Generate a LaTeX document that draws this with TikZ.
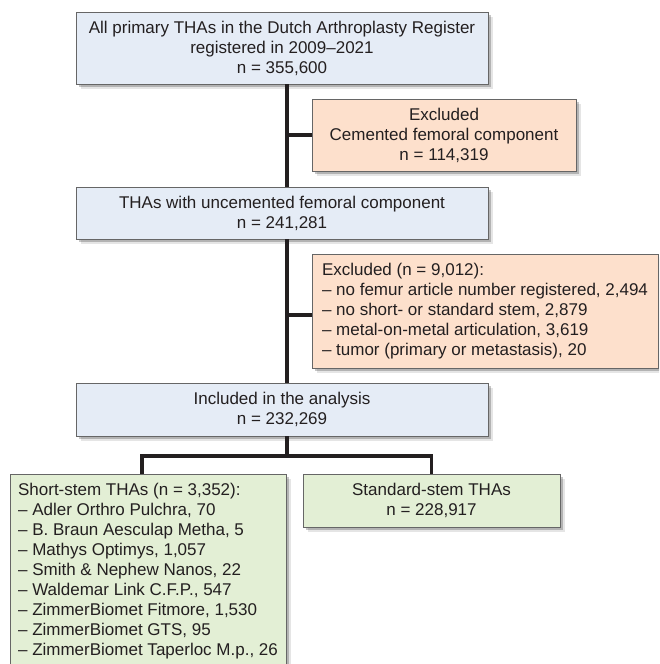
\documentclass[tikz,border=0pt]{standalone}
\usepackage{fontspec}
\setmainfont{Liberation Sans}
\usetikzlibrary{positioning}
\usetikzlibrary{shadows}
\definecolor{boxblue}{HTML}{E5ECF6}
\definecolor{boxorange}{HTML}{FDE0CC}
\definecolor{boxgreen}{HTML}{E3EFD5}
\definecolor{boxline}{HTML}{666666}
\definecolor{inkline}{HTML}{231F20}
\tikzstyle{flowbox} = [rectangle, draw=boxline, line width=0.8pt, inner xsep=8pt, inner ysep=6pt, text=inkline, font=\fontsize{17}{20}\selectfont, general shadow={fill=black, opacity=0.10, shadow xshift=5pt, shadow yshift=-5pt}, general shadow={fill=black, opacity=0.22, shadow xshift=3pt, shadow yshift=-3pt}]
\tikzstyle{mainbox} = [flowbox, fill=boxblue, align=center, minimum width=412pt]
\tikzstyle{exclbox} = [flowbox, fill=boxorange]
\tikzstyle{stembox} = [flowbox, fill=boxgreen]
\tikzstyle{link} = [draw=inkline, line width=3.5pt]

\begin{document}
\begin{tikzpicture}[x=1pt, y=-1pt]
	\useasboundingbox (0,0) rectangle (659,664);
	\clip (0,0) rectangle (659,664);
	\node[mainbox, minimum height=72pt](all) at (282,48){All primary THAs in the Dutch Arthroplasty Register\\registered in 2009--2021\\n = 355,600};
	\node[exclbox, align=center, minimum width=264pt, minimum height=72pt](cemented) at (444,135){Excluded\\Cemented femoral component\\n = 114,319};
	\node[mainbox, minimum height=52pt](uncemented) at (282,213){THAs with uncemented femoral component\\n = 241,281};
	\node[exclbox, align=left, minimum width=346pt, minimum height=114pt](excluded) at (485,311){Excluded (n = 9,012):\\-- no femur article number registered, 2,494\\-- no short- or standard stem, 2,879\\-- metal-on-metal articulation, 3,619\\-- tumor (primary or metastasis), 20};
	\node[mainbox, minimum height=53pt](included) at (282,409.5){Included in the analysis\\n = 232,269};
	\node[stembox, align=left, anchor=north, minimum width=276pt, inner ysep=9pt](short) at (148,474){Short-stem THAs (n = 3,352):\\-- Adler Orthro Pulchra, 70\\-- B. Braun Aesculap Metha, 5\\-- Mathys Optimys, 1,057\\-- Smith \& Nephew Nanos, 22\\-- Waldemar Link C.F.P., 547\\-- ZimmerBiomet Fitmore, 1,530\\-- ZimmerBiomet GTS, 95\\-- ZimmerBiomet Taperloc M.p., 26};
	\node[stembox, align=center, minimum width=257pt, minimum height=53pt](standard) at (431.5,500.5){Standard-stem THAs\\n = 228,917};
	\coordinate (trunk) at (287,0);
	\coordinate (split) at (287,456);
	\draw[link] (all.south -| trunk) -- (uncemented.north -| trunk);
	\draw[link] (cemented.west) -- (cemented.west -| trunk);
	\draw[link] (uncemented.south -| trunk) -- (included.north -| trunk);
	\draw[link] ([yshift=-4pt]excluded.west) -- ([yshift=-4pt]excluded.west -| trunk);
	\draw[link] (included.south -| trunk) -- (split);
	\draw[link] ([xshift=-6pt]short.north) |- (split) -| (standard.north);
\end{tikzpicture}
\end{document}
